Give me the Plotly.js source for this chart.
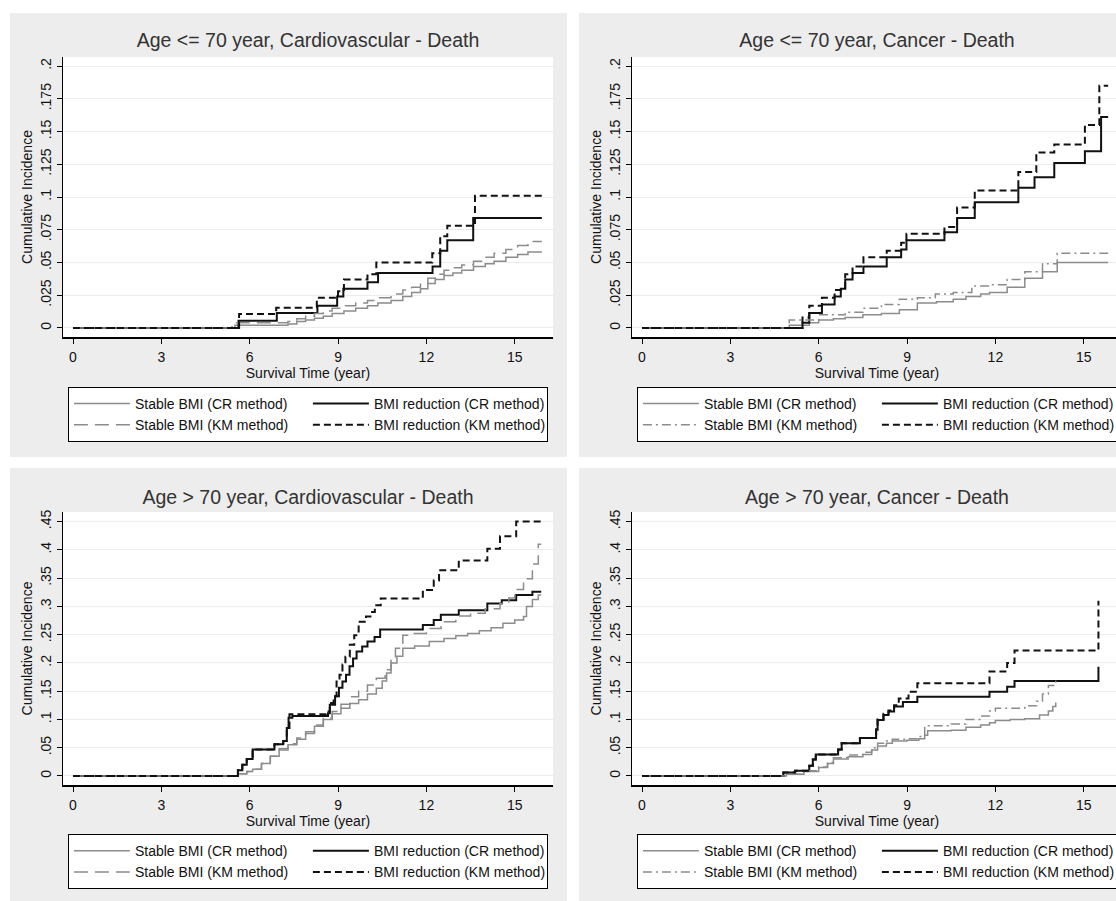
<!DOCTYPE html>
<html>
<head>
<meta charset="utf-8">
<script src="https://cdn.plot.ly/plotly-3.0.1.min.js"></script>
<style>
  html, body { margin: 0; padding: 0; background: #ffffff; width: 1116px; height: 901px; overflow: hidden; }
  .panel { position: absolute; }
</style>
</head>
<body>
<div id="p1" class="panel" style="left:10px; top:13px; width:557px; height:444px;"></div>
<div id="p2" class="panel" style="left:579px; top:13px; width:557px; height:444px;"></div>
<div id="p3" class="panel" style="left:10px; top:468px; width:557px; height:433px;"></div>
<div id="p4" class="panel" style="left:579px; top:468px; width:557px; height:433px;"></div>
<script>
// ---------------- DATA ----------------
const seriesNames = ["Stable BMI (CR method)", "BMI reduction (CR method)", "Stable BMI (KM method)", "BMI reduction (KM method)"];
const panelTitles = ["Age <= 70 year, Cardiovascular - Death", "Age <= 70 year, Cancer - Death", "Age > 70 year, Cardiovascular - Death", "Age > 70 year, Cancer - Death"];
const xTickVals = [0, 3, 6, 9, 12, 15];
const yTickValsYoung = [0, 0.025, 0.05, 0.075, 0.1, 0.125, 0.15, 0.175, 0.2];
const yTickTextYoung = ["0", ".025", ".05", ".075", ".1", ".125", ".15", ".175", ".2"];
const yTickValsOld = [0, 0.05, 0.1, 0.15, 0.2, 0.25, 0.3, 0.35, 0.4, 0.45];
const yTickTextOld = ["0", ".05", ".1", ".15", ".2", ".25", ".3", ".35", ".4", ".45"];

// Panel 1: Age <= 70, Cardiovascular death
const youngCvStableCrTime = [0,5.5,7.3,7.6,7.9,8.2,8.5,8.8,9.2,9.6,10.0,10.35,10.8,11.2,11.5,11.8,12.05,12.3,12.6,12.9,13.2,13.6,14.0,14.3,14.7,15.1,15.45,15.92];
const youngCvStableCrCI   = [0,0.002,0.003,0.005,0.006,0.0075,0.009,0.011,0.013,0.015,0.017,0.019,0.021,0.024,0.027,0.030,0.034,0.037,0.040,0.042,0.044,0.047,0.049,0.051,0.054,0.056,0.058,0.058];
const youngCvReductionCrTime = [0,5.62,6.92,8.3,8.97,9.18,10.0,10.36,12.21,12.47,12.71,13.59,15.92];
const youngCvReductionCrCI   = [0,0.0056,0.0115,0.017,0.024,0.030,0.035,0.042,0.047,0.059,0.067,0.084,0.084];
const youngCvStableKmTime = [0,5.4,7.3,7.6,7.9,8.2,8.5,8.8,9.2,9.6,10.0,10.35,10.8,11.2,11.5,11.8,12.05,12.3,12.6,12.9,13.2,13.6,14.0,14.3,14.7,15.1,15.45,15.92];
const youngCvStableKmCI   = [0,0.004,0.005,0.007,0.009,0.011,0.013,0.015,0.017,0.019,0.021,0.023,0.026,0.029,0.031,0.034,0.038,0.041,0.044,0.046,0.048,0.051,0.054,0.057,0.060,0.063,0.066,0.066];
const youngCvReductionKmTime = [0,5.64,6.9,8.28,9.0,9.2,10.0,10.3,12.2,12.47,12.71,13.65,15.92];
const youngCvReductionKmCI   = [0,0.0107,0.0155,0.023,0.028,0.037,0.041,0.050,0.057,0.070,0.078,0.101,0.101];

// Panel 2: Age <= 70, Cancer death
const youngCaStableCrTime = [0,5.0,5.68,6.0,6.5,6.9,7.5,8.13,8.74,9.35,10.0,10.57,11.0,11.5,11.8,12.4,13.0,13.6,14.1,15.83];
const youngCaStableCrCI   = [0,0.002,0.004,0.006,0.007,0.008,0.010,0.011,0.014,0.019,0.020,0.022,0.024,0.026,0.027,0.031,0.038,0.043,0.050,0.050];
const youngCaReductionCrTime = [0,5.45,5.68,6.11,6.54,6.75,6.9,7.15,7.52,8.31,8.8,8.98,10.27,10.7,11.3,12.78,13.33,14.0,15.04,15.59,15.83];
const youngCaReductionCrCI   = [0,0.004,0.0115,0.018,0.024,0.030,0.037,0.042,0.047,0.054,0.060,0.067,0.073,0.084,0.096,0.107,0.115,0.126,0.135,0.161,0.161];
const youngCaStableKmTime = [0,5.0,6.0,6.9,7.5,8.13,8.74,9.35,9.96,10.57,11.2,11.8,12.4,13.0,13.6,14.1,15.83];
const youngCaStableKmCI   = [0,0.006,0.010,0.012,0.015,0.018,0.022,0.023,0.026,0.027,0.032,0.033,0.037,0.043,0.049,0.057,0.057];
const youngCaReductionKmTime = [0,5.45,5.68,6.11,6.54,6.9,7.15,7.52,8.31,8.8,8.98,10.27,10.7,11.3,12.78,13.39,14.0,15.04,15.53,15.83];
const youngCaReductionKmCI   = [0,0.008,0.017,0.023,0.029,0.041,0.047,0.054,0.059,0.065,0.072,0.077,0.092,0.105,0.119,0.134,0.140,0.155,0.185,0.185];

// Panel 3: Age > 70, Cardiovascular death
const oldCvStableCrTime = [0,5.6,5.9,6.1,6.4,6.7,7.0,7.3,7.6,7.9,8.2,8.5,8.8,9.1,9.4,9.7,10.0,10.3,10.5,10.65,10.8,11.0,11.2,11.6,12.1,12.6,13.0,13.4,13.8,14.2,14.6,15.0,15.3,15.4,15.6,15.8,15.9];
const oldCvStableCrCI   = [0,0.004,0.008,0.012,0.022,0.035,0.046,0.055,0.065,0.075,0.088,0.100,0.110,0.120,0.128,0.135,0.145,0.155,0.168,0.182,0.200,0.212,0.226,0.230,0.238,0.243,0.248,0.252,0.257,0.262,0.270,0.276,0.282,0.300,0.312,0.320,0.320];
const oldCvReductionCrTime = [0,5.6,5.75,5.9,6.1,6.84,7.14,7.26,7.32,7.45,8.66,8.72,8.9,9.03,9.15,9.27,9.39,9.51,9.63,9.82,10.0,10.24,10.43,11.88,12.25,12.49,13.1,14.07,14.56,15.05,15.6,15.9];
const oldCvReductionCrCI   = [0,0.01,0.02,0.03,0.047,0.056,0.062,0.085,0.103,0.106,0.111,0.126,0.141,0.156,0.167,0.179,0.194,0.208,0.22,0.229,0.238,0.246,0.259,0.267,0.276,0.285,0.293,0.305,0.311,0.32,0.326,0.326];
const oldCvStableKmTime = [0,5.6,5.9,6.1,6.4,6.7,7.0,7.3,7.6,7.9,8.2,8.5,8.8,9.1,9.4,9.7,10.0,10.3,10.6,10.8,10.95,11.2,11.5,12.0,12.5,13.0,13.5,14.0,14.5,14.8,15.0,15.3,15.6,15.8,15.9];
const oldCvStableKmCI   = [0,0.004,0.008,0.012,0.022,0.035,0.048,0.057,0.067,0.078,0.090,0.102,0.114,0.127,0.140,0.150,0.161,0.173,0.188,0.205,0.226,0.249,0.252,0.261,0.273,0.283,0.288,0.296,0.305,0.315,0.330,0.349,0.375,0.410,0.410];
const oldCvReductionKmTime = [0,5.6,5.75,5.9,6.1,6.84,7.14,7.26,7.35,8.6,8.72,8.85,8.95,9.05,9.15,9.25,9.4,9.55,9.7,9.95,10.1,10.25,10.45,11.88,12.25,12.43,13.1,14.07,14.5,15.05,15.9];
const oldCvReductionKmCI   = [0,0.01,0.02,0.03,0.047,0.056,0.062,0.085,0.109,0.114,0.129,0.141,0.167,0.179,0.197,0.211,0.232,0.249,0.273,0.282,0.29,0.302,0.314,0.329,0.346,0.364,0.381,0.402,0.424,0.45,0.45];

// Panel 4: Age > 70, Cancer death
const oldCaStableCrTime = [0,4.9,5.5,6.0,6.3,6.5,7.0,7.5,7.8,8.0,8.3,8.5,9.0,9.4,9.6,9.7,10.5,11.0,11.5,11.8,12.0,12.5,13.0,13.5,13.8,13.95,14.05];
const oldCaStableCrCI   = [0,0.003,0.008,0.015,0.022,0.030,0.034,0.038,0.046,0.053,0.058,0.062,0.063,0.066,0.072,0.080,0.081,0.086,0.090,0.094,0.098,0.100,0.101,0.108,0.115,0.123,0.130];
const oldCaReductionCrTime = [0,4.8,5.2,5.68,5.8,5.9,6.66,6.78,7.4,7.95,8.0,8.2,8.37,8.56,8.86,9.35,11.8,12.4,12.65,15.5];
const oldCaReductionCrCI   = [0,0.006,0.009,0.018,0.029,0.038,0.047,0.058,0.067,0.082,0.099,0.108,0.114,0.123,0.131,0.140,0.149,0.158,0.168,0.193];
const oldCaStableKmTime = [0,4.9,5.5,6.0,6.3,6.5,7.0,7.5,7.8,8.0,8.3,8.5,9.0,9.4,9.6,10.5,11.0,11.5,11.8,12.0,12.5,13.0,13.4,13.6,13.8,14.05];
const oldCaStableKmCI   = [0,0.003,0.009,0.016,0.024,0.032,0.037,0.042,0.050,0.058,0.062,0.065,0.066,0.070,0.089,0.092,0.100,0.106,0.115,0.120,0.120,0.124,0.132,0.145,0.160,0.172];
const oldCaReductionKmTime = [0,4.8,5.2,5.68,5.8,5.9,6.66,6.78,7.4,7.95,8.0,8.2,8.37,8.56,8.72,9.05,9.35,11.8,12.4,12.65,15.5];
const oldCaReductionKmCI   = [0,0.006,0.009,0.018,0.029,0.038,0.047,0.058,0.067,0.082,0.100,0.110,0.116,0.125,0.137,0.149,0.164,0.185,0.200,0.222,0.310];

// ---------------- STYLE ----------------
const FONT = "Liberation Sans, Arial, Helvetica, sans-serif";
const GREY = "#8c8c8c";
const BLACK = "#111111";

function makeTraces(stableCr, reductionCr, stableKm, reductionKm, stableKmDash) {
  const spec = [
    [stableCr, GREY, 1.5, "solid"],
    [reductionCr, BLACK, 2, "solid"],
    [stableKm, GREY, 1.5, stableKmDash],
    [reductionKm, BLACK, 2, "7px,4px"]
  ];
  return spec.map((s, i) => ({
    type: "scatter",
    mode: "lines",
    x: s[0][0],
    y: s[0][1],
    name: seriesNames[i],
    line: { shape: "hv", color: s[1], width: s[2], dash: s[3] },
    hoverinfo: "skip"
  }));
}

function makeLayout(title, yVals, yText, yRange, heightPx, bottomMargin, titleY, legendY) {
  return {
    width: 557,
    height: heightPx,
    margin: { l: 53, r: 14, t: 44, b: bottomMargin, pad: 0 },
    paper_bgcolor: "#ededed",
    plot_bgcolor: "#ffffff",
    font: { family: FONT, color: "#111111", size: 14 },
    showlegend: true,
    hovermode: false,
    title: {
      text: title,
      font: { family: FONT, size: 19.5, color: "#333333" },
      x: 0.5, xref: "paper", xanchor: "center",
      y: titleY, yref: "container", yanchor: "middle"
    },
    xaxis: {
      range: [-0.34, 16.3],
      tickvals: xTickVals,
      ticktext: xTickVals.map(String),
      ticks: "outside", ticklen: 5, tickwidth: 1, tickcolor: "#000",
      ticklabelstandoff: 2,
      showline: true, linecolor: "#000", linewidth: 1.5,
      showgrid: false, zeroline: false,
      tickfont: { family: FONT, size: 14, color: "#111" },
      title: { text: "Survival Time (year)", font: { family: FONT, size: 14, color: "#111" }, standoff: 0 }
    },
    yaxis: {
      range: yRange,
      tickvals: yVals,
      ticktext: yText,
      tickangle: -90,
      ticks: "outside", ticklen: 5, tickwidth: 1, tickcolor: "#000",
      showline: true, linecolor: "#000", linewidth: 1.5,
      showgrid: true, gridcolor: "#ececec", gridwidth: 1, zeroline: false,
      tickfont: { family: FONT, size: 14, color: "#111" },
      title: { text: "Cumulative Incidence", font: { family: FONT, size: 14, color: "#111" }, standoff: 2 }
    },
    legend: {
      orientation: "h",
      x: 0.01, xanchor: "left",
      y: legendY, yanchor: "top",
      bgcolor: "#ffffff", bordercolor: "#000", borderwidth: 1,
      itemwidth: 56, entrywidth: 168, entrywidthmode: "pixels",
      traceorder: "normal",
      font: { family: FONT, size: 14, color: "#111" }
    }
  };
}

const cfg = { staticPlot: true, displayModeBar: false };

Plotly.newPlot("p1",
  makeTraces([youngCvStableCrTime, youngCvStableCrCI], [youngCvReductionCrTime, youngCvReductionCrCI],
             [youngCvStableKmTime, youngCvStableKmCI], [youngCvReductionKmTime, youngCvReductionKmCI], "14px,7px"),
  makeLayout(panelTitles[0], yTickValsYoung, yTickTextYoung, [-0.0069, 0.2069], 444, 120, 1 - 27 / 444, -50 / 280), cfg);

Plotly.newPlot("p2",
  makeTraces([youngCaStableCrTime, youngCaStableCrCI], [youngCaReductionCrTime, youngCaReductionCrCI],
             [youngCaStableKmTime, youngCaStableKmCI], [youngCaReductionKmTime, youngCaReductionKmCI], "9px,4px,2px,4px"),
  makeLayout(panelTitles[1], yTickValsYoung, yTickTextYoung, [-0.0069, 0.2069], 444, 120, 1 - 27 / 444, -50 / 280), cfg);

Plotly.newPlot("p3",
  makeTraces([oldCvStableCrTime, oldCvStableCrCI], [oldCvReductionCrTime, oldCvReductionCrCI],
             [oldCvStableKmTime, oldCvStableKmCI], [oldCvReductionKmTime, oldCvReductionKmCI], "14px,7px"),
  makeLayout(panelTitles[2], yTickValsOld, yTickTextOld, [-0.016, 0.467], 433, 111, 1 - 29 / 433, -50 / 278), cfg);

Plotly.newPlot("p4",
  makeTraces([oldCaStableCrTime, oldCaStableCrCI], [oldCaReductionCrTime, oldCaReductionCrCI],
             [oldCaStableKmTime, oldCaStableKmCI], [oldCaReductionKmTime, oldCaReductionKmCI], "9px,4px,2px,4px"),
  makeLayout(panelTitles[3], yTickValsOld, yTickTextOld, [-0.016, 0.467], 433, 111, 1 - 29 / 433, -50 / 278), cfg);
</script>
</body>
</html>
